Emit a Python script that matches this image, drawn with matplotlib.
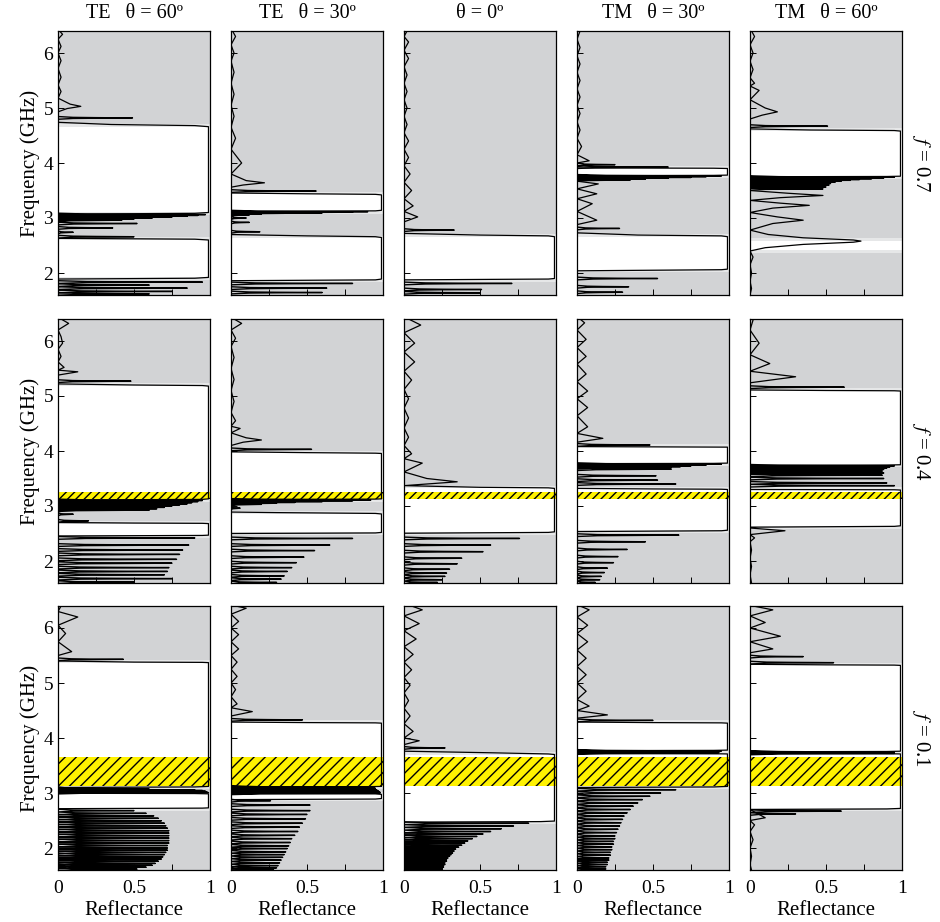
import matplotlib
matplotlib.use("Agg")
import matplotlib.pyplot as plt
from matplotlib.ticker import FixedLocator

plt.rcParams['font.family'] = ['Liberation Serif', 'DejaVu Serif']
plt.rcParams['mathtext.fontset'] = 'stix'
plt.rcParams['hatch.linewidth'] = 1.0

# ---------------- data ----------------
col_titles = ["TE   \u03b8 = 60\u00ba", "TE   \u03b8 = 30\u00ba", "\u03b8 = 0\u00ba",
              "TM   \u03b8 = 30\u00ba", "TM   \u03b8 = 60\u00ba"]
row_labels = ["0.7", "0.4", "0.1"]
freq_ticks = [2, 3, 4, 5, 6]
refl_ticks = [0, 0.5, 1]
refl_tick_labels = ["0", "0.5", "1"]

omni_07 = None
omni_04 = (3.13, 3.26)
omni_01 = (3.12, 3.66)

# white (band-gap) intervals, GHz
gaps_te60_07 = [(3.10, 4.66), (1.92, 2.60)]
gaps_te30_07 = [(3.13, 3.43), (1.88, 2.63)]
gaps_n0_07 = [(1.89, 2.66)]
gaps_tm30_07 = [(3.78, 3.90), (2.06, 2.66)]
gaps_tm60_07 = [(3.75, 4.58), (2.41, 2.58)]

gaps_te60_04 = [(3.13, 5.18), (2.47, 2.68)]
gaps_te30_04 = [(3.13, 3.955), (2.52, 2.855)]
gaps_n0_04 = [(2.53, 3.32)]
gaps_tm30_04 = [(3.78, 4.07), (2.56, 3.30)]
gaps_tm60_04 = [(3.75, 5.09), (2.64, 3.29)]

gaps_te60_01 = [(3.12, 5.37), (2.73, 2.985)]
gaps_te30_01 = [(3.12, 4.27), (2.90, 2.975)]
gaps_n0_01 = [(2.49, 3.70)]
gaps_tm30_01 = [(3.78, 4.27), (3.12, 3.71)]
gaps_tm60_01 = [(3.75, 5.32), (2.72, 3.71)]

# smooth parts of the reflectance curves: (frequency GHz, reflectance)
r_te60_07 = [(6.40,0.01),(6.34,0.03),(6.25,0.00),(6.12,0.02),(6.00,0.00),(5.86,0.02),(5.72,0.00),(5.56,0.02),(5.42,0.00),(5.30,0.02),(5.18,0.00),
    (5.07,0.08),(5.03,0.15),(4.99,0.06),(4.93,0.00),(4.74,0.00),(4.70,0.35),(4.68,0.90),(4.66,0.99),
    (3.10,0.99),(3.085,0.90),(3.07,0.00),(2.63,0.00),(2.615,0.90),(2.60,0.99),(1.92,0.99),(1.905,0.90),(1.89,0.00),(1.60,0.00)]
r_te30_07 = [(6.40,0.01),(6.30,0.03),(6.15,0.00),(6.00,0.02),(5.85,0.00),(5.65,0.02),(5.45,0.00),(5.25,0.02),(5.05,0.00),(4.85,0.02),(4.65,0.00),(4.45,0.03),(4.25,0.00),
    (4.00,0.07),(3.80,0.00),(3.68,0.10),(3.64,0.22),(3.60,0.08),(3.56,0.00),(3.455,0.00),(3.44,0.50),(3.43,0.95),(3.42,0.99),
    (3.14,0.99),(3.13,0.95),(3.12,0.00),(2.70,0.00),(2.675,0.50),(2.66,0.95),(2.645,0.99),(1.89,0.99),(1.875,0.95),(1.86,0.00),(1.60,0.00)]
r_n0_07 = [(6.40,0.02),(6.30,0.00),(6.20,0.03),(6.05,0.00),(5.90,0.03),(5.75,0.00),(5.60,0.02),(5.45,0.00),(5.30,0.02),(5.15,0.00),(5.00,0.02),(4.85,0.00),(4.70,0.02),(4.55,0.00),(4.40,0.03),(4.25,0.00),(4.10,0.03),(3.95,0.00),(3.80,0.04),(3.65,0.00),(3.50,0.05),(3.35,0.00),(3.22,0.06),(3.12,0.00),(3.02,0.09),(2.93,0.00),
    (2.72,0.00),(2.69,0.50),(2.675,0.95),(2.66,0.99),(1.90,0.99),(1.89,0.95),(1.875,0.00),(1.60,0.00)]
r_tm30_07 = [(6.40,0.02),(6.25,0.00),(6.10,0.02),(5.95,0.00),(5.80,0.02),(5.65,0.00),(5.50,0.02),(5.35,0.00),(5.20,0.02),(5.05,0.00),(4.90,0.02),(4.75,0.00),(4.60,0.02),(4.45,0.00),(4.30,0.03),(4.15,0.00),(4.04,0.08),(4.00,0.00),
    (3.91,0.00),(3.905,0.90),(3.90,0.99),(3.78,0.99),(3.775,0.90),(3.77,0.00),(3.67,0.00),
    (3.62,0.14),(3.53,0.00),(3.44,0.13),(3.35,0.00),(3.26,0.10),(3.12,0.00),(2.96,0.13),(2.88,0.00),(2.73,0.00),(2.69,0.40),(2.675,0.95),(2.66,0.99),
    (2.07,0.99),(2.06,0.95),(2.04,0.00),(1.60,0.00)]
r_tm60_07 = [(6.40,0.01),(6.30,0.03),(6.15,0.00),(6.00,0.02),(5.85,0.00),(5.70,0.02),(5.55,0.00),(5.45,0.03),(5.40,0.00),(5.32,0.06),(5.15,0.00),(5.00,0.10),(4.93,0.18),(4.87,0.08),(4.80,0.00),(4.62,0.00),(4.60,0.40),(4.59,0.95),(4.58,0.99),
    (3.76,0.99),(3.755,0.90),(3.75,0.00),(3.50,0.00),
    (3.45,0.25),(3.41,0.48),(3.37,0.20),(3.32,0.00),(3.27,0.20),(3.23,0.39),(3.18,0.15),(3.10,0.00),(3.02,0.18),(2.96,0.35),(2.90,0.15),(2.78,0.00),(2.70,0.12),(2.64,0.35),(2.60,0.68),(2.58,0.73),(2.56,0.68),(2.52,0.35),(2.46,0.10),(2.40,0.00),
    (2.29,0.02),(2.15,0.00),(2.00,0.01),(1.85,0.00),(1.72,0.01),(1.60,0.00)]

r_te60_04 = [(6.40,0.02),(6.32,0.07),(6.20,0.00),(6.08,0.02),(5.96,0.03),(5.85,0.00),(5.72,0.02),(5.62,0.00),(5.52,0.04),(5.47,0.00),(5.44,0.13),(5.38,0.00),(5.22,0.00),(5.20,0.50),(5.19,0.95),(5.18,0.99),
    (3.13,0.99),(3.12,0.95),(3.11,0.00),(2.70,0.00),(2.69,0.50),(2.685,0.95),(2.68,0.99),(2.47,0.99),(2.465,0.95),(2.455,0.00),(1.60,0.00)]
r_te30_04 = [(6.40,0.02),(6.32,0.07),(6.20,0.00),(6.05,0.03),(5.90,0.00),(5.70,0.02),(5.50,0.00),(5.30,0.02),(5.10,0.00),(4.90,0.02),(4.70,0.00),(4.55,0.03),(4.45,0.00),(4.41,0.06),(4.33,0.00),(4.24,0.10),(4.20,0.20),(4.16,0.08),(4.10,0.00),(3.985,0.00),(3.97,0.50),(3.96,0.95),(3.955,0.99),
    (3.13,0.99),(3.125,0.95),(3.12,0.00),(2.89,0.00),(2.88,0.30),(2.865,0.95),(2.855,0.99),(2.52,0.99),(2.51,0.95),(2.50,0.00),(1.60,0.00)]
r_n0_04 = [(6.40,0.03),(6.29,0.11),(6.15,0.00),(5.96,0.07),(5.80,0.00),(5.62,0.07),(5.45,0.00),(5.29,0.05),(5.12,0.00),(4.95,0.03),(4.78,0.00),(4.60,0.03),(4.42,0.00),(4.25,0.03),(4.10,0.00),(3.95,0.05),(3.86,0.00),(3.78,0.12),(3.62,0.00),(3.50,0.15),(3.44,0.35),(3.40,0.15),(3.37,0.00),(3.34,0.50),(3.33,0.95),(3.32,0.99),
    (2.53,0.99),(2.52,0.95),(2.505,0.00),(1.60,0.00)]
r_tm30_04 = [(6.40,0.02),(6.33,0.05),(6.20,0.00),(6.03,0.06),(5.88,0.00),(5.72,0.06),(5.58,0.00),(5.40,0.06),(5.26,0.00),(5.09,0.07),(4.95,0.00),(4.79,0.07),(4.64,0.00),(4.44,0.07),(4.32,0.00),(4.23,0.17),(4.16,0.00),(4.08,0.00),(4.075,0.50),(4.07,0.99),
    (3.78,0.99),(3.775,0.90),(3.77,0.00),(3.32,0.00),(3.31,0.50),(3.305,0.95),(3.30,0.99),(2.56,0.99),(2.55,0.95),(2.535,0.00),(1.60,0.00)]
r_tm60_04 = [(6.40,0.01),(6.38,0.02),(6.20,0.00),(5.96,0.06),(5.75,0.00),(5.59,0.13),(5.45,0.00),(5.35,0.30),(5.24,0.00),(5.11,0.00),(5.10,0.50),(5.095,0.95),(5.09,0.99),
    (3.75,0.99),(3.745,0.90),(3.74,0.00),(3.30,0.00),(3.295,0.95),(3.29,0.99),(2.64,0.99),(2.63,0.95),(2.615,0.00),(2.60,0.00),(2.55,0.23),(2.48,0.00),(2.42,0.03),(2.35,0.00),(2.20,0.01),(2.05,0.00),(1.90,0.01),(1.75,0.00),(1.60,0.01)]

r_te60_01 = [(6.40,0.02),(6.30,0.00),(6.20,0.13),(6.05,0.00),(5.90,0.05),(5.75,0.00),(5.57,0.09),(5.50,0.00),(5.40,0.00),(5.38,0.50),(5.375,0.95),(5.37,0.99),
    (3.12,0.99),(3.11,0.90),(3.10,0.00),(2.995,0.00),(2.99,0.90),(2.985,0.99),(2.73,0.99),(2.725,0.95),(2.715,0.00),(1.60,0.00)]
r_te30_01 = [(6.40,0.03),(6.36,0.10),(6.25,0.00),(6.12,0.05),(6.00,0.00),(5.88,0.05),(5.75,0.00),(5.62,0.05),(5.50,0.00),(5.38,0.04),(5.25,0.00),(5.12,0.04),(5.00,0.00),(4.88,0.03),(4.75,0.00),(4.62,0.04),(4.55,0.00),(4.48,0.14),(4.40,0.00),(4.29,0.00),(4.28,0.50),(4.275,0.95),(4.27,0.99),
    (3.12,0.99),(3.115,0.90),(3.11,0.00),(2.99,0.00),(2.984,0.95),(2.975,0.99),(2.90,0.99),(2.89,0.95),(2.88,0.00),(1.60,0.00)]
r_n0_01 = [(6.40,0.05),(6.33,0.12),(6.22,0.00),(6.08,0.10),(5.95,0.00),(5.80,0.08),(5.66,0.00),(5.52,0.06),(5.38,0.00),(5.24,0.05),(5.10,0.00),(4.96,0.04),(4.82,0.00),(4.68,0.03),(4.54,0.00),(4.40,0.04),(4.26,0.00),(4.12,0.06),(4.00,0.00),(3.95,0.10),(3.88,0.00),(3.76,0.00),(3.73,0.60),(3.71,0.95),(3.70,0.99),
    (2.49,0.99),(2.48,0.90),(2.47,0.00),(1.60,0.00)]
r_tm30_01 = [(6.40,0.02),(6.33,0.08),(6.20,0.00),(6.05,0.07),(5.90,0.00),(5.75,0.07),(5.60,0.00),(5.45,0.06),(5.30,0.00),(5.15,0.06),(5.00,0.00),(4.85,0.06),(4.70,0.00),(4.58,0.08),(4.50,0.00),(4.42,0.20),(4.36,0.00),(4.29,0.00),(4.28,0.50),(4.275,0.95),(4.27,0.99),
    (3.78,0.99),(3.775,0.90),(3.77,0.00),(3.716,0.00),(3.712,0.95),(3.71,0.99),(3.12,0.99),(3.11,0.90),(3.10,0.00),(1.60,0.00)]
r_tm60_01 = [(6.40,0.02),(6.33,0.15),(6.22,0.00),(6.10,0.10),(6.00,0.00),(5.85,0.20),(5.75,0.00),(5.62,0.15),(5.55,0.00),(5.34,0.00),(5.33,0.50),(5.325,0.95),(5.32,0.99),
    (3.76,0.99),(3.755,0.90),(3.75,0.00),(3.716,0.00),(3.712,0.95),(3.71,0.99),(2.72,0.99),(2.71,0.90),(2.70,0.00),(2.55,0.10),(2.50,0.00),(2.42,0.03),(2.30,0.00),(2.15,0.02),(2.00,0.00),(1.85,0.01),(1.70,0.00),(1.60,0.01)]

# sharp resonance peaks: (frequency GHz, peak reflectance)
s_te60_07 = [(4.82,0.49),(3.062,0.97),(3.047,0.92),(3.032,0.85),(3.017,0.75),(3.00,0.62),(2.98,0.50),(2.96,0.42),(2.90,0.52),(2.82,0.36),(2.74,0.10),(2.66,0.50),
    (1.835,0.95),(1.78,0.60),(1.725,0.85),(1.665,0.75),(1.62,0.60)]
s_te30_07 = [(3.49,0.56),(3.115,0.90),(3.105,0.80),(3.095,0.60),(3.085,0.35),(3.072,0.20),(3.055,0.12),(3.00,0.10),(2.92,0.12),(2.75,0.19),(1.81,0.80),(1.725,0.63),(1.645,0.60)]
s_n0_07 = [(2.78,0.33),(1.81,0.71),(1.70,0.51),(1.64,0.50)]
s_tm30_07 = [(3.97,0.25),(3.925,0.60),(3.765,0.95),(3.752,0.85),(3.738,0.75),(3.724,0.60),(3.708,0.45),(3.69,0.35),(2.81,0.28),(1.90,0.53),(1.75,0.34),(1.65,0.30)]
s_tm60_07 = [(4.67,0.51),(3.742,0.95),(3.728,0.88),(3.714,0.80),(3.70,0.72),(3.685,0.66),(3.668,0.60),(3.65,0.56),(3.628,0.53),(3.60,0.52),(3.565,0.50),(3.53,0.48)]

s_te60_04 = [(5.27,0.48),(3.10,0.95),(3.08,0.92),(3.06,0.88),(3.04,0.85),(3.02,0.80),(3.00,0.75),(2.975,0.70),(2.95,0.65),(2.925,0.60),(2.85,0.10),(2.73,0.20),
    (2.42,0.90),(2.29,0.86),(2.20,0.82),(2.12,0.80),(2.03,0.78),(1.96,0.75),(1.88,0.73),(1.81,0.72),(1.75,0.70),(1.68,0.75),(1.615,0.50)]
s_te30_04 = [(4.03,0.53),(3.11,0.92),(3.095,0.80),(3.08,0.60),(3.065,0.42),(3.05,0.30),(3.03,0.20),(2.96,0.06),
    (2.41,0.80),(2.29,0.65),(2.19,0.55),(2.07,0.48),(1.97,0.43),(1.88,0.40),(1.81,0.37),(1.73,0.35),(1.67,0.33),(1.61,0.30)]
s_n0_04 = [(2.41,0.76),(2.29,0.57),(2.17,0.52),(2.05,0.38),(1.95,0.35),(1.85,0.30),(1.78,0.28),(1.72,0.27),(1.66,0.25),(1.61,0.22)]
s_tm30_04 = [(4.11,0.48),(3.76,0.95),(3.745,0.85),(3.73,0.75),(3.715,0.68),(3.70,0.62),(3.67,0.62),(3.55,0.52),(3.47,0.53),(3.40,0.65),
    (2.47,0.67),(2.35,0.45),(2.21,0.33),(2.08,0.27),(1.97,0.24),(1.87,0.20),(1.79,0.18),(1.72,0.16),(1.66,0.15),(1.61,0.12)]
s_tm60_04 = [(5.16,0.62),(3.73,0.95),(3.71,0.92),(3.69,0.90),(3.665,0.88),(3.635,0.87),(3.60,0.88),(3.56,0.87),(3.50,0.88),(3.42,0.90),(3.37,0.95)]

s_te60_01 = [(5.43,0.43),(3.085,0.24),(3.07,0.60),(3.058,0.90),(3.045,0.95),(3.032,0.97),(3.02,0.98),(3.008,0.99),
    (2.68,0.50),(2.63,0.58),(2.585,0.63),(2.54,0.66),(2.495,0.68),(2.45,0.70),(2.405,0.71),(2.36,0.72),(2.315,0.73),(2.27,0.73),(2.225,0.73),(2.18,0.73),(2.135,0.73),(2.09,0.73),(2.045,0.72),(2.00,0.72),(1.96,0.72),(1.92,0.71),(1.88,0.70),(1.84,0.69),(1.80,0.68),(1.76,0.66),(1.72,0.64),(1.685,0.62),(1.65,0.58),(1.615,0.52)]
s_te30_01 = [(4.33,0.47),(3.105,0.92),(3.095,0.94),(3.085,0.95),(3.075,0.95),(3.065,0.95),(3.055,0.96),(3.045,0.96),(3.035,0.97),(3.025,0.97),(3.015,0.98),(3.005,0.98),(2.995,0.98),
    (2.86,0.26),(2.78,0.52),(2.68,0.52),(2.61,0.50),(2.53,0.49),(2.45,0.47),(2.38,0.45),(2.30,0.44),(2.23,0.42),(2.17,0.40),(2.10,0.39),(2.04,0.38),(1.99,0.37),(1.93,0.36),(1.88,0.35),(1.83,0.34),(1.78,0.33),(1.73,0.32),(1.68,0.31),(1.64,0.30),(1.605,0.28)]
s_n0_01 = [(3.82,0.27),(2.45,0.82),(2.40,0.72),(2.35,0.64),(2.30,0.57),(2.255,0.52),(2.21,0.48),(2.17,0.45),(2.13,0.42),(2.09,0.40),(2.05,0.38),(2.015,0.36),(1.98,0.34),(1.945,0.33),(1.91,0.32),(1.88,0.31),(1.85,0.30),(1.82,0.29),(1.79,0.28),(1.76,0.28),(1.73,0.27),(1.70,0.27),(1.675,0.26),(1.65,0.26),(1.625,0.25),(1.605,0.25)]
s_tm30_01 = [(4.32,0.50),(3.764,0.95),(3.752,0.94),(3.740,0.93),(3.728,0.93),
    (3.06,0.65),(3.00,0.55),(2.94,0.48),(2.88,0.43),(2.82,0.40),(2.76,0.37),(2.70,0.35),(2.64,0.33),(2.58,0.31),(2.52,0.30),(2.46,0.29),(2.40,0.28),(2.34,0.27),(2.28,0.26),(2.22,0.25),(2.17,0.25),(2.12,0.24),(2.07,0.24),(2.02,0.23),(1.97,0.23),(1.92,0.22),(1.87,0.22),(1.82,0.21),(1.78,0.21),(1.74,0.20),(1.70,0.20),(1.66,0.19),(1.62,0.19)]
s_tm60_01 = [(5.48,0.35),(5.37,0.55),(3.744,0.95),(3.732,0.94),(3.72,0.95),(2.67,0.60),(2.62,0.30)]

panels = [
    [(gaps_te60_07, r_te60_07, s_te60_07), (gaps_te30_07, r_te30_07, s_te30_07), (gaps_n0_07, r_n0_07, s_n0_07), (gaps_tm30_07, r_tm30_07, s_tm30_07), (gaps_tm60_07, r_tm60_07, s_tm60_07)],
    [(gaps_te60_04, r_te60_04, s_te60_04), (gaps_te30_04, r_te30_04, s_te30_04), (gaps_n0_04, r_n0_04, s_n0_04), (gaps_tm30_04, r_tm30_04, s_tm30_04), (gaps_tm60_04, r_tm60_04, s_tm60_04)],
    [(gaps_te60_01, r_te60_01, s_te60_01), (gaps_te30_01, r_te30_01, s_te30_01), (gaps_n0_01, r_n0_01, s_n0_01), (gaps_tm30_01, r_tm30_01, s_tm30_01), (gaps_tm60_01, r_tm60_01, s_tm60_01)],
]
omnis = [omni_07, omni_04, omni_01]
omni_hatch = [None, '////', '///']

# ---------------- style ----------------
W, H = 940, 922
col_left = [58, 231, 404, 577, 750]
row_top = [31, 319, 606]
pw, ph = 152, 264
BG = '#d2d3d5'
EDGE = '#e6e7e8'
YEL = '#fff200'
SPIKE_W = 0.005                      # GHz, half width of a sharp peak
SPIKE_OFF = [5, 2, 1, 0.5, 0, -0.5, -1, -2, -5]
SPIKE_FR = [0, 0.2, 0.5, 0.8, 1, 0.8, 0.5, 0.2, 0]


def spike_path(peaks):
    xs, ys = [], []
    for f0, r0 in peaks:
        for o, fr in zip(SPIKE_OFF, SPIKE_FR):
            ys.append(f0 + o * SPIKE_W)
            xs.append(r0 * fr)
    return xs, ys


fig = plt.figure(figsize=(W / 100, H / 100), dpi=100)
for i in range(3):
    for j in range(5):
        gaps, curve, spikes = panels[i][j]
        ax = fig.add_axes([col_left[j] / W, 1 - (row_top[i] + ph) / H, pw / W, ph / H])
        ax.set_facecolor(BG)
        for lo, hi in gaps:
            ax.axhspan(lo - 0.05, hi + 0.05, color=EDGE, lw=0, zorder=0.5)
        for lo, hi in gaps:
            ax.axhspan(lo, hi, color='white', lw=0, zorder=0.6)
        if omnis[i] is not None:
            lo, hi = omnis[i]
            ax.axhspan(lo, hi, facecolor=YEL, edgecolor='black', hatch=omni_hatch[i], lw=0, zorder=0.7)
        ax.plot([p[1] for p in curve], [p[0] for p in curve], color='black', lw=0.9, zorder=2)
        sx, sy = spike_path(spikes)
        ax.plot(sx, sy, color='black', lw=1.0, zorder=2)
        ax.set_xlim(0, 1)
        ax.set_ylim(1.6, 6.4)
        ax.set_xticks(refl_ticks)
        ax.xaxis.set_minor_locator(FixedLocator([0.25, 0.75]))
        ax.set_yticks(freq_ticks)
        ax.tick_params(which='both', direction='in', length=4, width=0.7, labelsize=14)
        ax.tick_params(axis='x', pad=7)
        for s in ax.spines.values():
            s.set_linewidth(0.9)
        if j == 0:
            ax.set_ylabel('Frequency (GHz)', fontsize=15, labelpad=2)
        else:
            ax.set_yticklabels([])
        if i == 2:
            ax.set_xticklabels(refl_tick_labels)
            ax.set_xlabel('Reflectance', fontsize=15, labelpad=3)
        else:
            ax.set_xticklabels([])
        if i == 0:
            fig.text((col_left[j] + pw / 2) / W, 1 - 14 / H, col_titles[j],
                     ha='center', va='center', fontsize=14.5)
        if j == 4:
            fig.text(921 / W, 1 - (row_top[i] + ph / 2) / H, r'$f$ = ' + row_labels[i],
                     ha='center', va='center', rotation=-90, fontsize=15)

fig.savefig('out.png', dpi=100)
